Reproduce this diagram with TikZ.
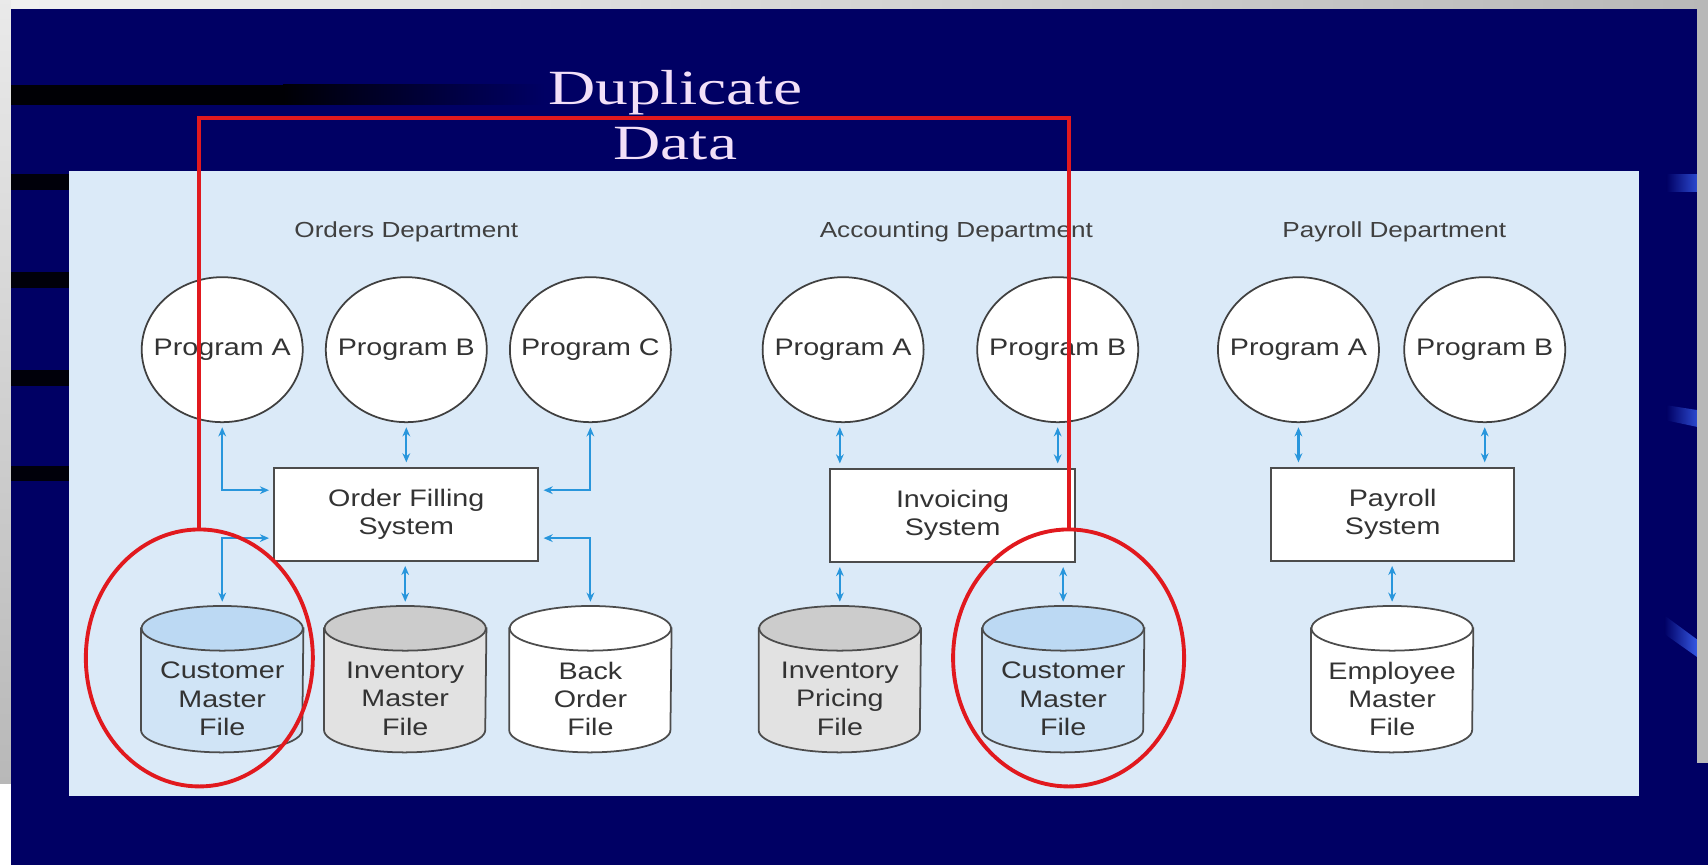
\documentclass[tikz,border=0pt]{standalone}
\usepackage{fontspec}
\newfontfamily\diafont[FakeStretch=1.2]{Liberation Sans}
\newfontfamily\notefont[FakeStretch=1.33]{Liberation Serif}
\usepackage{tikz}
\usetikzlibrary{calc}
\usetikzlibrary{arrows.meta}
\usetikzlibrary{shapes.geometric}
\definecolor{navybg}{RGB}{0,0,100}
\definecolor{panelblue}{RGB}{219,234,248}
\definecolor{arrowblue}{RGB}{40,150,220}
\definecolor{custtop}{RGB}{188,217,243}
\definecolor{custbody}{RGB}{208,228,246}
\definecolor{invtop}{RGB}{204,204,204}
\definecolor{invbody}{RGB}{226,226,226}
\definecolor{dupred}{RGB}{225,25,30}
\definecolor{duptext}{RGB}{242,224,248}
\definecolor{framegray}{RGB}{184,184,184}
\definecolor{streakblue}{RGB}{60,100,245}
\tikzset{
	program/.style={ellipse, draw=black!75, fill=white, line width=0.5pt,
		inner xsep=-2mm, inner ysep=0pt,
		minimum width=16.1mm, minimum height=14.5mm, text=black!80,
		font=\diafont\fontsize{6.8}{8}\selectfont},
	system/.style={rectangle, draw=black!70, fill=white, line width=0.6pt, align=center,
		minimum height=9.3mm, text=black!80, font=\diafont\fontsize{6.8}{8}\selectfont},
	datafile/.style={rectangle, minimum width=16.1mm, minimum height=14.5mm, inner sep=0pt},
	filetext/.style={align=center, text=black!80, font=\diafont\fontsize{6.8}{8}\selectfont},
	dept/.style={text=black!75, font=\diafont\fontsize{6.2}{7}\selectfont},
	flow/.style={draw=arrowblue, line width=0.6pt, shorten <=1.2pt, shorten >=1.2pt,
		{Stealth[length=2.6pt,width=2.2pt]}-{Stealth[length=2.6pt,width=2.2pt]}},
	ring/.style={ellipse, draw=dupred, line width=1.1pt, inner sep=0pt, minimum height=25.7mm},
	dupline/.style={draw=dupred, line width=1.1pt},
	cylline/.style={draw=black!70, line width=0.5pt},
}
% drum outline round a datafile node: name, top fill, side fill
\newcommand\drawdrum[3]{%
	\filldraw[cylline, fill=#3] ($(#1.north west)+(0,20.5)$) -- ($(#1.south west)+(0,-20.5)$)
		arc[start angle=180, end angle=0, x radius=74, y radius=20.5]
		-- ($(#1.north east)+(0,20.5)$) -- cycle;
	\filldraw[cylline, fill=#2] ($(#1.north)+(0,20.5)$) ellipse[x radius=74, y radius=20.5];
}
\begin{document}
\begin{tikzpicture}[x=0.10893mm, y=-0.10893mm]
	\useasboundingbox (0,0) rectangle (1568,794);
	% slide background
	\fill[navybg] (0,0) rectangle (1568,794);
	\fill[black!95!navybg] (10,78) rectangle (260,96);
	\shade[left color=black!95!navybg, right color=navybg] (260,78) rectangle (500,96);
	\foreach \y in {160,250,340,428}
		\fill[black!90!navybg] (10,\y) rectangle (63,\y+14);
	\shade[left color=navybg, right color=streakblue] (1530,160) rectangle (1568,176);
	\shade[left color=navybg, right color=streakblue] (1530,372) -- (1568,378) -- (1568,394) -- (1530,386) -- cycle;
	\shade[left color=navybg, right color=streakblue] (1528,565) -- (1562,590) -- (1562,606) -- (1528,582) -- cycle;
	\shade[left color=white!80!framegray, right color=framegray] (0,0) rectangle (1568,8);
	\shade[top color=white!70!framegray, bottom color=framegray] (0,0) rectangle (10,720);
	\fill[white] (0,720) rectangle (10,794);
	\fill[framegray] (1558,0) rectangle (1568,700);
	% figure panel
	\fill[panelblue] (63,157) rectangle (1505,731);
	\node[dept] (ordd) at (373,213) {Orders Department};
	\node[dept] (accd) at (878,213) {Accounting Department};
	\node[dept] (payd) at (1280,213) {Payroll Department};

	\node[program] (oA) at (204,321) {Program A};
	\node[program] (oB) at (373,321) {Program B};
	\node[program] (oC) at (542,321) {Program C};
	\node[program] (aA) at (774,321) {Program A};
	\node[program] (aB) at (971,321) {Program B};
	\node[program] (pA) at (1192,321) {Program A};
	\node[program] (pB) at (1363,321) {Program B};

	\node[system, minimum width=26.4mm] (ofs) at (373,472) {Order Filling\\System};
	\node[system, minimum width=24.5mm] (inv) at (874.5,473) {Invoicing\\System};
	\node[system, minimum width=24.3mm] (pay) at (1278.5,472) {Payroll\\System};

	\node[datafile] (cmf1) at (204,623.5) {};
	\node[datafile] (imf) at (372,623.5) {};
	\node[datafile] (bof) at (542,623.5) {};
	\node[datafile] (ipf) at (771,623.5) {};
	\node[datafile] (cmf2) at (976,623.5) {};
	\node[datafile] (emf) at (1278,623.5) {};
	\drawdrum{cmf1}{custtop}{custbody}
	\drawdrum{imf}{invtop}{invbody}
	\drawdrum{bof}{white}{white}
	\drawdrum{ipf}{invtop}{invbody}
	\drawdrum{cmf2}{custtop}{custbody}
	\drawdrum{emf}{white}{white}
	\node[filetext] (cmf1t) at ($(cmf1)+(0,18)$) {Customer\\Master\\File};
	\node[filetext] (imft) at ($(imf)+(0,18)$) {Inventory\\Master\\File};
	\node[filetext] (boft) at ($(bof)+(0,18)$) {Back\\Order\\File};
	\node[filetext] (ipft) at ($(ipf)+(0,18)$) {Inventory\\Pricing\\File};
	\node[filetext] (cmf2t) at ($(cmf2)+(0,18)$) {Customer\\Master\\File};
	\node[filetext] (emft) at ($(emf)+(0,18)$) {Employee\\Master\\File};

	\draw[flow] (oA.south) |- ($(ofs.west)+(0,-22)$);
	\draw[flow] (oB.south) -- (ofs.north);
	\draw[flow] (oC.south) |- ($(ofs.east)+(0,-22)$);
	\draw[flow] ($(ofs.west)+(0,22)$) -| (cmf1.north);
	\draw[flow] (imf.north |- ofs.south) -- (imf.north);
	\draw[flow] ($(ofs.east)+(0,22)$) -| (bof.north);

	\draw[flow] (aA.south -| ipf.north) -- (ipf.north |- inv.north);
	\draw[flow] (aB.south) -- (aB.south |- inv.north);
	\draw[flow] (ipf.north |- inv.south) -- (ipf.north);
	\draw[flow] (cmf2.north |- inv.south) -- (cmf2.north);

	\draw[flow] (pA.south) -- (pA.south |- pay.north);
	\draw[flow] (pB.south) -- (pB.south |- pay.north);
	\draw[flow] (emf.north |- pay.south) -- (emf.north);

	% the duplicated customer file
	\node[ring, minimum width=22.7mm] (ring1) at (183,604) {};
	\node[ring, minimum width=23.1mm] (ring2) at (981,604) {};
	\draw[dupline] (ring1.north) -- ++(0,-376) -| (ring2.north);
	\node[text=duptext, align=center, font=\notefont\fontsize{14}{15.75}\selectfont] (dup) at (620,106) {Duplicate\\Data};
\end{tikzpicture}
\end{document}
